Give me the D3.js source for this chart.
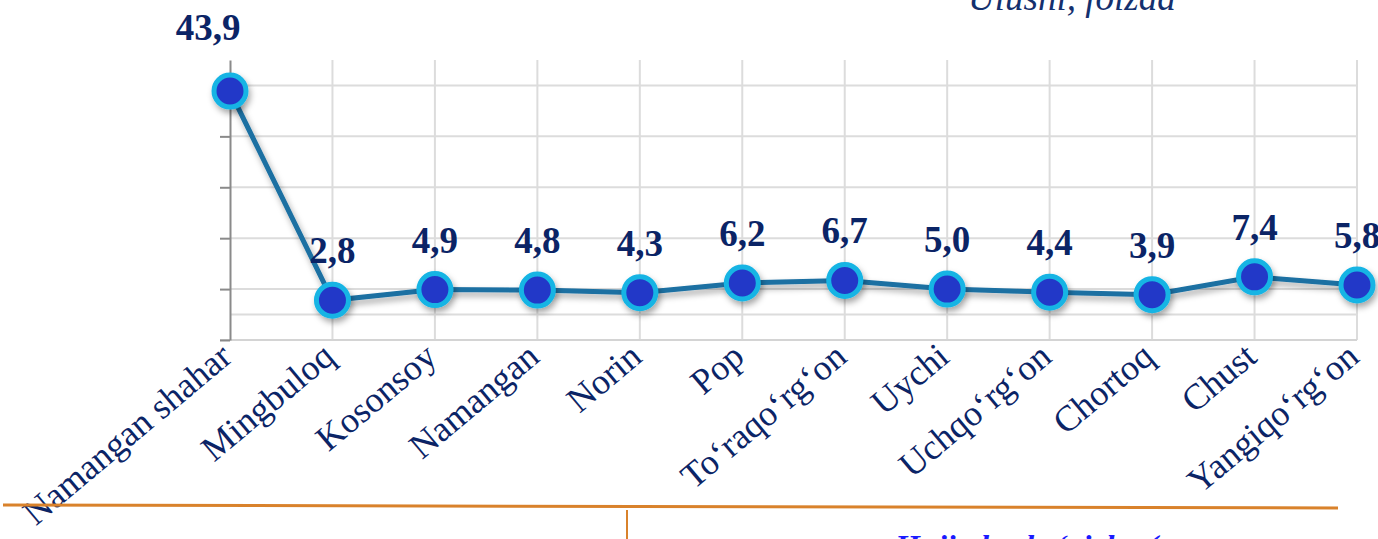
<!DOCTYPE html>
<html lang="en">
<head>
<meta charset="UTF-8">
<script src="https://cdn.jsdelivr.net/npm/d3@7/dist/d3.min.js"></script>
<style>
    body { margin: 0; background: #fff; }
    svg { display: block; }
    .cat { font-family: "Liberation Serif", "Times New Roman", serif; font-size: 36px; fill: #0b2466; }
    .val { font-family: "Liberation Serif", "Times New Roman", serif; font-size: 37px; font-weight: bold; fill: #0b2466; }
</style>
</head>
<body>
<div id="chart"></div>
<script>
    // data
    const districts = ["Namangan shahar", "Mingbuloq", "Kosonsoy", "Namangan", "Norin", "Pop",
        "To\u2018raqo\u2018rg\u2018on", "Uychi", "Uchqo\u2018rg\u2018on", "Chortoq", "Chust", "Yangiqo\u2018rg\u2018on"];
    const shares = [43.9, 2.8, 4.9, 4.8, 4.3, 6.2, 6.7, 5.0, 4.4, 3.9, 7.4, 5.8];
    const gridValues = [5, 15, 25, 35, 45];
    const tickValues = [-5, 5, 15, 25, 35];

    const W = 1378, H = 539;
    const plot = { left: 230, right: 1357, top: 60, bottom: 340 };

    const svg = d3.select("#chart").append("svg")
        .attr("width", W).attr("height", H);

    const defs = svg.append("defs");
    const f = defs.append("filter").attr("id", "shadow")
        .attr("x", "-50%").attr("y", "-50%").attr("width", "200%").attr("height", "200%");
    f.append("feDropShadow").attr("dx", 2).attr("dy", 4)
        .attr("stdDeviation", 3).attr("flood-color", "#000").attr("flood-opacity", 0.35);

    const x = d3.scalePoint().domain(districts).range([plot.left, plot.right]);
    const y = d3.scaleLinear().domain([-5, 50]).range([plot.bottom, plot.top]);

    // grid
    svg.append("g").selectAll("line").data(gridValues.concat([0])).join("line")
        .attr("x1", plot.left).attr("x2", plot.right)
        .attr("y1", d => y(d)).attr("y2", d => y(d))
        .attr("stroke", "#dcdcdc").attr("stroke-width", 2);
    svg.append("g").selectAll("line").data(districts.slice(1)).join("line")
        .attr("x1", d => x(d)).attr("x2", d => x(d))
        .attr("y1", plot.top).attr("y2", plot.bottom)
        .attr("stroke", "#dcdcdc").attr("stroke-width", 2);
    svg.append("line")
        .attr("x1", plot.left - 10).attr("x2", plot.right)
        .attr("y1", y(-5)).attr("y2", y(-5))
        .attr("stroke", "#d4d4d4").attr("stroke-width", 2);

    // y axis without labels
    const yAxis = svg.append("g")
        .attr("transform", `translate(${plot.left},0)`)
        .call(d3.axisLeft(y).tickValues(tickValues).tickSize(10).tickSizeOuter(0).tickFormat(""));
    yAxis.select(".domain").attr("stroke", "#8a8a8a").attr("stroke-width", 2);
    yAxis.selectAll(".tick line").attr("stroke", "#8a8a8a").attr("stroke-width", 2);

    // category labels
    svg.append("g").selectAll("text").data(districts).join("text")
        .attr("class", "cat")
        .attr("text-anchor", "end")
        .attr("transform", d => `translate(${x(d) + 4},360) rotate(-40)`)
        .text(d => d);

    // line + markers
    const line = d3.line().x((d, i) => x(districts[i])).y(d => y(d));
    svg.append("path")
        .datum(shares)
        .attr("d", line)
        .attr("fill", "none")
        .attr("stroke", "#1a6fa2")
        .attr("stroke-width", 5)
        .attr("filter", "url(#shadow)");

    svg.append("g").selectAll("circle").data(shares).join("circle")
        .attr("cx", (d, i) => x(districts[i]))
        .attr("cy", d => y(d))
        .attr("r", 16)
        .attr("fill", "#2438c8")
        .attr("stroke", "#14b4e4")
        .attr("stroke-width", 5)
        .attr("filter", "url(#shadow)");

    // value labels
    svg.append("g").selectAll("text").data(shares).join("text")
        .attr("class", "val")
        .attr("text-anchor", "middle")
        .attr("x", (d, i) => x(districts[i]) - (i === 0 ? 22 : 0))
        .attr("y", (d, i) => y(d) - (i === 0 ? 51 : 37))
        .text(d => d.toFixed(1).replace(".", ","));

    // title, cut by the top edge
    svg.append("text")
        .attr("x", 968).attr("y", 10)
        .attr("font-family", "Liberation Serif, serif")
        .attr("font-style", "italic")
        .attr("font-size", 37)
        .attr("fill", "#14306e")
        .text("Ulushi, foizda");

    // slide decoration at the bottom
    svg.append("line")
        .attr("x1", 3).attr("y1", 505).attr("x2", 1338).attr("y2", 508)
        .attr("stroke", "#d9822b").attr("stroke-width", 3);
    svg.append("line")
        .attr("x1", 627).attr("y1", 510).attr("x2", 627).attr("y2", 539)
        .attr("stroke", "#d9822b").attr("stroke-width", 2);
    svg.append("text")
        .attr("x", 895).attr("y", 557)
        .attr("font-family", "Liberation Serif, serif")
        .attr("font-style", "italic")
        .attr("font-weight", "bold")
        .attr("font-size", 32)
        .attr("fill", "#1a1aff")
        .text("Hujjatlar bo\u2018yicha (");
</script>
</body>
</html>
